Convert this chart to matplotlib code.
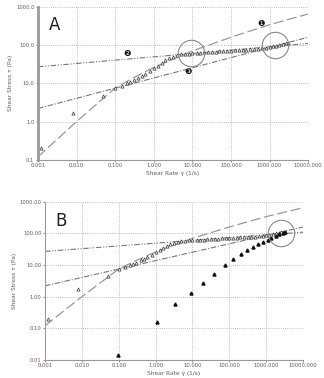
import matplotlib
matplotlib.use("Agg")
import matplotlib.pyplot as plt
import matplotlib.ticker as mticker

# model lines
x_ends = [0.001, 10000]
flat_y = [27, 110]          # dash-dot-dot
mid_y = [2.2, 160]          # dash-dot
curve_x = [0.001, 0.01, 0.1, 0.3, 1, 3, 10, 100, 1000, 10000]
curve_y = [0.12, 1.0, 7.5, 14, 26, 42, 70, 160, 340, 650]  # long dash

# hollow triangles (measured data)
tri_x = [0.0012, 0.008, 0.05, 0.1, 0.15, 0.2, 0.25, 0.3, 0.4, 0.5, 0.6, 0.8, 1.0,
         1.3, 1.6, 2.0, 2.5, 3.2, 4, 5, 6.3, 8, 10, 13, 16, 20, 25, 32, 40, 50,
         63, 80, 100, 130, 160, 200, 250, 320, 400, 500, 630, 800, 1000, 1200,
         1500, 1800, 2200, 2600, 3000]
tri_y = [0.2, 1.7, 4.6, 7.6, 8.5, 10, 11, 12, 14, 16, 18, 21, 25, 29, 34, 40, 45,
         50, 54, 57, 59, 60, 61, 62, 63, 64, 65, 66, 67, 68, 70, 71, 72, 73, 74,
         75, 76, 77, 78, 80, 82, 85, 88, 92, 96, 100, 105, 110, 115]

# filled triangles (panel B only)
fill_x = [0.098, 1.07, 3.3, 9.1, 19.5, 39, 79, 125, 204, 300, 450, 610, 830,
          1100, 1400, 1800, 2300, 2800, 3300]
fill_y = [0.014, 0.155, 0.57, 1.3, 2.8, 5.4, 9.8, 15.6, 22, 29.5, 38, 46, 54,
          63, 72, 82, 93, 104, 112]

xticks = [0.001, 0.01, 0.1, 1, 10, 100, 1000, 10000]
xlabels = ["0.001", "0.010", "0.100", "1.000", "10.000", "100.000", "1000.000", "10000.000"]

grey = "#777777"
txt = "#6b5a55"


def draw_panel(ax, letter, ylim, yfmt, with_fill):
    ax.set_xscale("log")
    ax.set_yscale("log")
    ax.set_xlim(0.001, 10000)
    ax.set_ylim(*ylim)

    ax.plot(x_ends, flat_y, color=grey, lw=0.8, dashes=(5, 1.5, 1, 1.5, 1, 1.5))
    ax.plot(x_ends, mid_y, color=grey, lw=0.8, dashes=(5, 1.5, 1, 1.5))
    ax.plot(curve_x, curve_y, color="#999999", lw=0.9, dashes=(8, 3))

    ax.plot(tri_x, tri_y, linestyle="none", marker="^", ms=2.3, mfc="white",
            mec="#444444", mew=0.55)
    if with_fill:
        ax.plot(fill_x, fill_y, linestyle="none", marker="^", ms=2.2,
                color="#111111")

    yt = [10 ** k for k in range(-5, 4) if ylim[0] <= 10 ** k <= ylim[1]]
    ax.set_xticks(xticks)
    ax.set_xticklabels(xlabels)
    ax.set_yticks(yt)
    ax.set_yticklabels([yfmt.format(v) for v in yt])
    ax.xaxis.set_minor_locator(mticker.NullLocator())
    ax.yaxis.set_minor_locator(mticker.NullLocator())
    ax.tick_params(labelsize=3.8, colors=txt, length=1.5, width=0.5, pad=1)

    ax.grid(True, color="#aaaaaa", linestyle=(0, (1, 1.5)), lw=0.6)
    for s in ["top", "right"]:
        ax.spines[s].set_visible(False)
    ax.spines["left"].set_color("#999999")
    ax.spines["bottom"].set_color("#999999")

    ax.set_xlabel("Shear Rate \u03b3\u0307 (1/s)", fontsize=4.2, color=txt, labelpad=2)
    ax.set_ylabel("Shear Stress \u03c4 (Pa)", fontsize=4.2, color=txt, labelpad=2)
    ax.text(0.04, 0.88, letter, transform=ax.transAxes, fontsize=12,
            color="#222222", va="center")


fig = plt.figure(figsize=(3.24, 3.78), dpi=100)
axA = fig.add_axes([0.117, 0.577, 0.834, 0.405])
axB = fig.add_axes([0.139, 0.048, 0.796, 0.418])

draw_panel(axA, "A", (0.1, 1000), "{:.1f}", False)
axA.spines["left"].set_linewidth(2)
axA.plot([9, 1400], [62, 100], linestyle="none", marker="o", ms=19,
         mfc="none", mec="#888888", mew=0.8)
for lab, px, py in [("\u2776", 600, 360), ("\u2777", 0.21, 60), ("\u2778", 7.9, 20)]:
    axA.text(px, py, lab, fontsize=6, ha="center", va="center", color="#111111")

draw_panel(axB, "B", (0.01, 1000), "{:.2f}", True)
axB.plot([2500], [100], linestyle="none", marker="o", ms=19,
         mfc="none", mec="#888888", mew=0.8)

fig.savefig("out.png", dpi=100)
